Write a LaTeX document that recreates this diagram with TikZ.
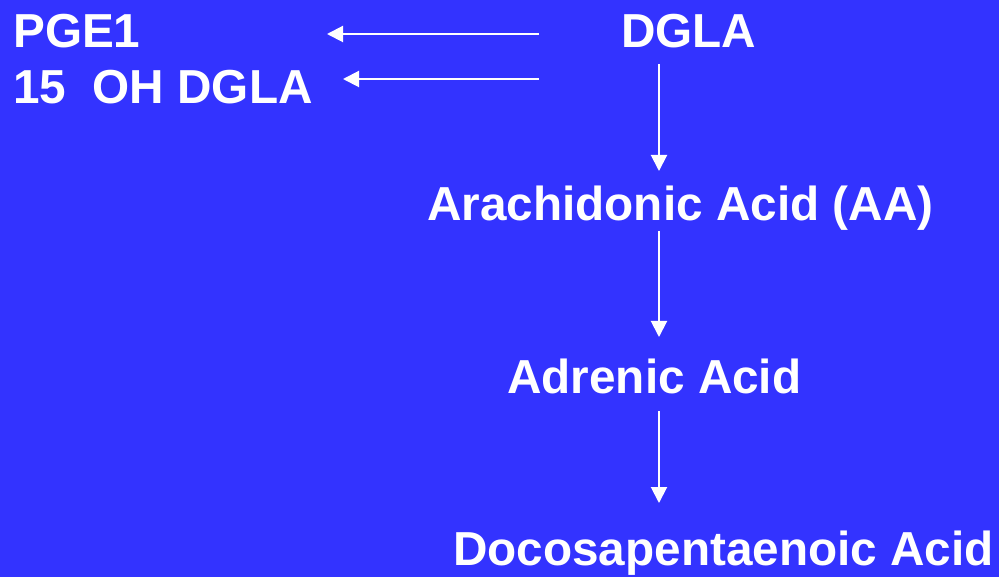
\documentclass[tikz,border=0pt]{standalone}
\usepackage{fontspec}
\setmainfont{Liberation Sans}
\usetikzlibrary{arrows.meta}
\definecolor{bg}{HTML}{3333FF}
\tikzset{
  lbl/.style={anchor=base west, inner sep=0pt, text=white, font=\fontsize{47.7}{48}\selectfont\bfseries},
  conn/.style={draw=white, line width=2pt, -{Triangle[length=16pt,width=16pt]}}
}
\begin{document}
\begin{tikzpicture}[x=1pt,y=-1pt]
\fill[bg] (0,0) rectangle (999,577);
\useasboundingbox (0,0) rectangle (999,577);
\node[lbl] (pge) at (13,48) {PGE1};
\node[lbl] (oh) at (13,104) {15\ \ OH DGLA};
\node[lbl] (dgla) at (621,48) {DGLA};
\node[lbl] (aa) at (427,221) {Arachidonic Acid (AA)};
\node[lbl] (adr) at (507,393) {Adrenic Acid};
\node[lbl] (dpa) at (453,565) {Docosapentaenoic Acid};
\coordinate (s1) at (539,34);
\coordinate (e1) at (327,34);
\coordinate (s2) at (539,79);
\coordinate (e2) at (343,79);
\coordinate (s3) at (659,64);
\coordinate (e3) at (659,171);
\coordinate (s4) at (659,231);
\coordinate (e4) at (659,337);
\coordinate (s5) at (659,411);
\coordinate (e5) at (659,503);
\draw[conn] (s1) -- (e1);
\draw[conn] (s2) -- (e2);
\draw[conn] (s3) -- (e3);
\draw[conn] (s4) -- (e4);
\draw[conn] (s5) -- (e5);
\end{tikzpicture}
\end{document}
